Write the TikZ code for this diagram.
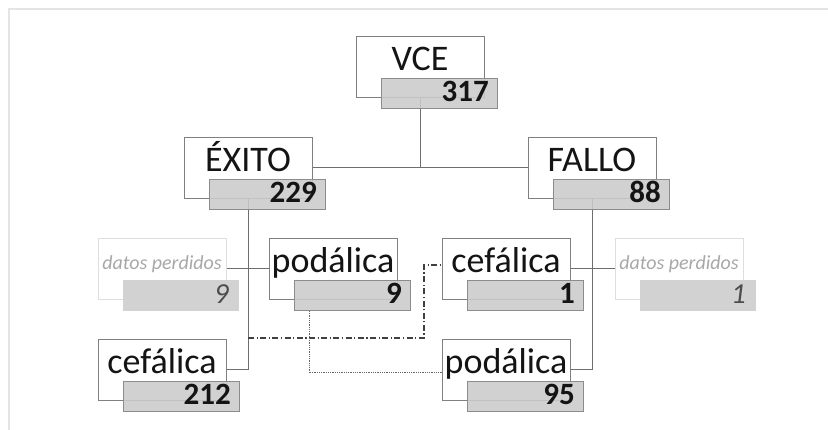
\documentclass[tikz,border=0pt]{standalone}
\usepackage{fontspec}
\setmainfont{Carlito}
\pgfdeclarelayer{bg}
\pgfsetlayers{bg,main}
\definecolor{wborder}{HTML}{808080}
\definecolor{gfill}{HTML}{CBCBCB}
\definecolor{gborder}{HTML}{8C8C8C}
\definecolor{lineC}{HTML}{6E6E6E}
\definecolor{faintB}{HTML}{DEDEDE}
\definecolor{faintF}{HTML}{D2D2D2}
\definecolor{faintT}{HTML}{A8A8A8}
\definecolor{frameC}{HTML}{E4E4E4}
\tikzset{
  x=1pt, y=-1pt,
  wbox/.style={draw=wborder, fill=white, line width=0.9pt, minimum width=128, minimum height=61, inner sep=0, anchor=north west},
  gbox/.style={draw=gborder, fill=gfill, fill opacity=0.88, line width=0.9pt, minimum width=116, minimum height=30, inner sep=0, anchor=north west},
  fwbox/.style={draw=faintB, fill=white, line width=0.9pt, minimum width=128, minimum height=61, inner sep=0, anchor=north west},
  fgbox/.style={fill=faintF, minimum width=116, minimum height=31, inner sep=0, anchor=north west},
  lbl/.style={anchor=base, inner sep=0, font=\fontsize{36}{36}\selectfont, text=black!92},
  num/.style={anchor=base east, inner sep=0, font=\fontsize{31}{31}\selectfont\bfseries, text=black!92},
  flbl/.style={anchor=base, inner sep=0, font=\fontsize{20}{20}\selectfont\itshape, text=faintT},
  fnum/.style={anchor=base east, inner sep=0, font=\fontsize{29}{29}\selectfont\itshape, text=black!70},
  conn/.style={draw=lineC, line width=0.9pt},
  dashdotline/.style={draw=black!75, line width=1.1pt, dash pattern=on 6pt off 2.5pt on 1.2pt off 2.5pt},
  dotline/.style={draw=black!60, line width=1pt, dash pattern=on 1pt off 0.8pt}
}
\newcommand\pairbox[5]{%
  \node[wbox] (#1W) at (#2,#3) {};
  \node[gbox] (#1G) at (#2+25,#3+42) {};
  \node[lbl] (#1T) at (#2+64,#3+35) {#4};
  \node[num] (#1N) at (#2+133,#3+66) {#5};
}
\newcommand\faintbox[5]{%
  \node[fwbox] (#1W) at (#2,#3) {};
  \node[fgbox] (#1G) at (#2+25,#3+42) {};
  \node[flbl] (#1T) at (#2+64,#3+32) {#4};
  \node[fnum] (#1N) at (#2+131,#3+66) {#5};
}
\begin{document}
\begin{tikzpicture}
\useasboundingbox (0,0) rectangle (828,430);
\draw[frameC, line width=2pt] (9,430) -- (9,9) -- (828,9);

\pairbox{vce}{356}{36}{VCE}{317}
\pairbox{ex}{184}{137}{ÉXITO}{229}
\pairbox{fa}{528}{137}{FALLO}{88}
\faintbox{dpL}{98}{238}{datos perdidos}{9}
\pairbox{podL}{269}{238}{podálica}{9}
\pairbox{cefR}{442}{238}{cefálica}{1}
\faintbox{dpR}{615}{238}{datos perdidos}{1}
\pairbox{cefL}{98}{339}{cefálica}{212}
\pairbox{podR}{442}{339}{podálica}{95}

\coordinate (ddA) at (248,338);
\coordinate (ddB) at (424,338);
\coordinate (ddC) at (424,265);
\coordinate (dtA) at (309,311);
\coordinate (dtB) at (309,373);

\begin{pgfonlayer}{bg}
\draw[conn] (vceW.south) -- (vceW.south |- exW.east);
\draw[conn] (exW.east) -- (faW.west);
\draw[conn] (exW.south) -- (exW.south |- cefLW.east) -- (cefLW.east);
\draw[conn] (faW.south) -- (faW.south |- podRW.east) -- (podRW.east);
\draw[conn] (dpLW.east) -- (podLW.west);
\draw[conn] (cefRW.east) -- (dpRW.west);
\end{pgfonlayer}
\draw[dashdotline] (ddA) -- (ddB) -- (ddC) -- (ddC -| cefRW.west);
\draw[dotline] (dtA) -- (dtB) -- (dtB -| podRW.west);
\end{tikzpicture}
\end{document}
